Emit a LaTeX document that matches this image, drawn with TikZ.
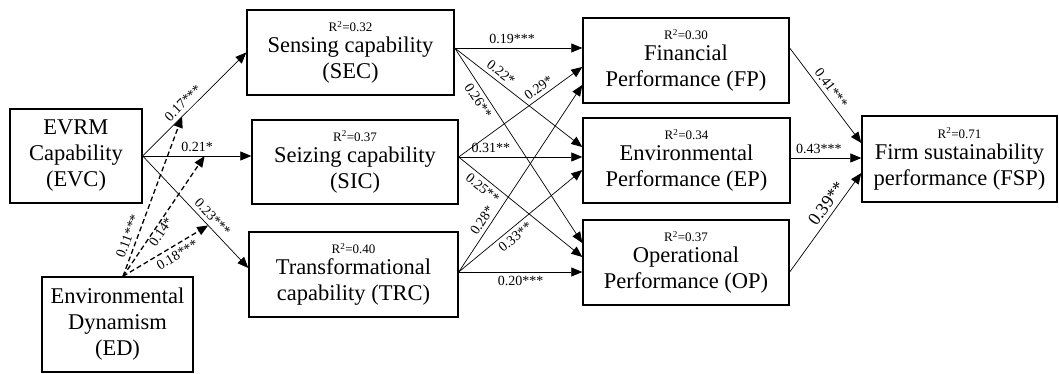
\documentclass[tikz,border=0pt]{standalone}
\usepackage{fontspec}
\setmainfont{Liberation Serif}
\usetikzlibrary{arrows.meta, calc}
\tikzset{
  box/.style={draw, line width=1.4pt, inner sep=0pt, align=center, font=\fontsize{22.5}{26}\selectfont},
  link/.style={->, line width=0.7pt},
  dyn/.style={->, line width=1.3pt, dash pattern=on 5pt off 3pt},
  coef/.style={font=\fontsize{14}{14}\selectfont, sloped, inner sep=4pt},
}
\newcommand{\rsq}[1]{{\fontsize{13}{13}\selectfont R\textsuperscript{2}=#1}}
\begin{document}
\begin{tikzpicture}[x=1pt,y=-1pt,>={Triangle[length=11pt,width=9pt]}]
  \useasboundingbox (0,0) rectangle (1059,374);
  %構成概念
  \node[box,minimum width=132pt,minimum height=94pt] (EVC) at (76,156) {EVRM\\Capability\\(EVC)};
  \node[box,minimum width=151pt,minimum height=95pt] (ED) at (117.5,324.5) {Environmental\\Dynamism\\(ED)};
  \node[box,minimum width=207pt,minimum height=85pt] (SEC) at (350.5,52.5) {\rsq{0.32}\\[-5pt]Sensing capability\\(SEC)};
  \node[box,minimum width=206pt,minimum height=84pt] (SIC) at (355,162) {\rsq{0.37}\\[-5pt]Seizing capability\\(SIC)};
  \node[box,minimum width=209pt,minimum height=85pt] (TRC) at (353.5,274.5) {\rsq{0.40}\\[-5pt]Transformational\\capability (TRC)};
  \node[box,minimum width=206pt,minimum height=85pt] (FP) at (686,60.5) {\rsq{0.30}\\[-5pt]Financial\\Performance (FP)};
  \node[box,minimum width=207pt,minimum height=85pt] (EP) at (686.5,160.5) {\rsq{0.34}\\[-5pt]Environmental\\Performance (EP)};
  \node[box,minimum width=206pt,minimum height=85pt] (OP) at (686,262.5) {\rsq{0.37}\\[-5pt]Operational\\Performance (OP)};
  \node[box,minimum width=195pt,minimum height=86pt] (FSP) at (959.5,159) {\rsq{0.71}\\[-5pt]Firm sustainability\\performance (FSP)};
  %EVC -> 動的能力
  \draw[link] (EVC.east) -- (SEC.west) node[coef,above,pos=0.45] (c1) {0.17***} coordinate[pos=0.38] (m1);
  \draw[link] (EVC.east) -- (EVC.east -| SIC.west) node[coef,above,pos=0.5] (c2) {0.21*} coordinate[pos=0.57] (m2);
  \draw[link] (EVC.east) -- ([yshift=6.5pt]TRC.west) node[coef,above,pos=0.6] (c3) {0.23***} coordinate[pos=0.62] (m3);
  %調整効果
  \coordinate (EDt) at ([xshift=5.5pt]ED.north);
  \draw[dyn] (EDt) -- (m1) node[coef,above,pos=0.23] (c4) {0.11***};
  \draw[dyn] (EDt) -- (m2) node[coef,below,pos=0.4,inner sep=1pt] (c5) {0.14*};
  \draw[dyn] (EDt) -- (m3) node[coef,below,pos=0.58] (c6) {0.18***};
  %動的能力 -> 成果
  \coordinate (SECo) at ([yshift=4.5pt]SEC.east);
  \coordinate (SICo) at ([yshift=5pt]SIC.east);
  \coordinate (TRCo) at ([yshift=2.5pt]TRC.east);
  \draw[link] (SECo) -- (SECo -| FP.west) node[coef,above,pos=0.45] (c7) {0.19***};
  \draw[link] (SECo) -- ([yshift=13.5pt]EP.west) node[coef,above,pos=0.32] (c8) {0.22*};
  \draw[link] (SECo) -- ([yshift=19.5pt]OP.west) node[coef,below,pos=0.245] (c9) {0.26**};
  \draw[link] (SICo) -- ([yshift=-6.5pt]FP.west) node[coef,above,pos=0.69] (c10) {0.29*};
  \draw[link] (SICo) -- (SICo -| EP.west) node[coef,above,pos=0.26] (c11) {0.31**};
  \draw[link] (SICo) -- ([yshift=5.5pt]OP.west) node[coef,below,pos=0.24] (c12) {0.25**};
  \draw[link] (TRCo) -- ([yshift=-24.5pt]FP.west) node[coef,above,pos=0.25] (c13) {0.28*};
  \draw[link] (TRCo) -- ([yshift=-9.5pt]EP.west) node[coef,below,pos=0.41] (c14) {0.33**};
  \draw[link] (TRCo) -- (TRCo -| OP.west) node[coef,below,pos=0.5] (c15) {0.20***};
  %成果 -> FSP
  \coordinate (FPo) at ([yshift=12.5pt]FP.east);
  \coordinate (EPo) at ([yshift=2.5pt]EP.east);
  \coordinate (OPo) at ([yshift=-9.5pt]OP.east);
  \draw[link] (FPo) -- ([yshift=16pt]FSP.west) node[coef,above,pos=0.48] (c16) {0.41***};
  \draw[link] (EPo) -- (EPo -| FSP.west) node[coef,above,pos=0.4] (c17) {0.43***};
  \draw[link] (OPo) -- ([yshift=-14pt]FSP.west) node[coef,above,pos=0.63,font=\fontsize{18}{18}\selectfont] (c18) {0.39**};
\end{tikzpicture}
\end{document}
